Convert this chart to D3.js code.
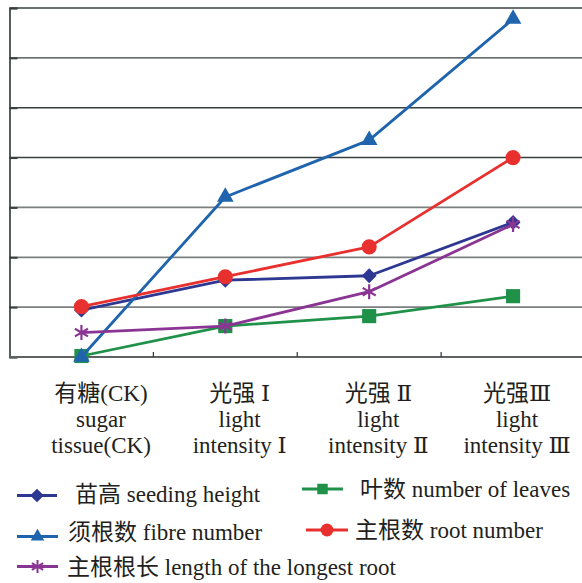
<!DOCTYPE html>
<html>
<head>
<meta charset="utf-8">
<script src="https://cdn.jsdelivr.net/npm/d3@7/dist/d3.min.js"></script>
<style>
  html, body { margin: 0; padding: 0; background: #fff; }
  svg { display: block; }
</style>
</head>
<body>
<svg id="chart" width="582" height="583"></svg>
<script>
// Treatments along the x axis (three text lines per label)
const categories = ["CK", "I", "II", "III"];
const labelLine1 = ["有糖(CK)", "光强 Ⅰ", "光强 Ⅱ", "光强Ⅲ"];
const labelLine2 = ["sugar", "light", "light", "light"];
const labelLine3 = ["tissue(CK)", "intensity Ⅰ", "intensity Ⅱ", "intensity Ⅲ"];

// Series values (relative units, one per treatment)
const seedingHeight = [0.94, 1.54, 1.63, 2.70];
const leafNumber    = [0.02, 0.62, 0.82, 1.22];
const fibreNumber   = [0.00, 3.21, 4.35, 6.78];
const rootNumber    = [1.01, 1.61, 2.21, 4.00];
const longestRoot   = [0.49, 0.62, 1.31, 2.66];

// Series names for the legend
const seriesNames = ["苗高 seeding height", "叶数 number of leaves", "须根数 fibre number",
                     "主根数 root number", "主根根长 length of the longest root"];

// Gridline values on the (unlabelled) y axis
const yGrid = [0, 1, 2, 3, 4, 5, 6, 7];

const FONT = "Liberation Serif, DejaVu Serif, Noto Sans CJK SC, serif";
const TEXT_COLOR = "#231f20";

const series = [
  { name: seriesNames[0], values: seedingHeight, color: "#2e3893", symbol: d3.symbolDiamond2 || d3.symbolDiamond, size: 140, lsize: 120, fill: true },
  { name: seriesNames[1], values: leafNumber,    color: "#1f9148", symbol: d3.symbolSquare,   size: 200, lsize: 110, fill: true },
  { name: seriesNames[2], values: fibreNumber,   color: "#1f64ad", symbol: d3.symbolTriangle, size: 120, lsize: 80,  fill: true },
  { name: seriesNames[3], values: rootNumber,    color: "#e8302e", symbol: d3.symbolCircle,   size: 180, lsize: 130, fill: true },
  { name: seriesNames[4], values: longestRoot,   color: "#8a3493", symbol: d3.symbolAsterisk, size: 160, lsize: 120, fill: false }
];

const svg = d3.select("#chart");

const plotTop = 8, plotBottom = 357, plotLeft = 9.5, plotRight = 585;

const x = d3.scaleBand().domain(categories).range([plotLeft, plotRight]).padding(0);
const xc = c => x(c) + x.bandwidth() / 2;
const y = d3.scaleLinear().domain([0, 7]).range([plotBottom, plotTop]);
// Label columns sit slightly left-compressed relative to the bands
const xLabel = d3.scalePoint().domain(categories).range([101, 517]);

// Horizontal gridlines
svg.append("g")
  .selectAll("line")
  .data(yGrid)
  .join("line")
  .attr("x1", plotLeft).attr("x2", 582)
  .attr("y1", d => y(d)).attr("y2", d => y(d))
  .attr("stroke", d => d >= 4 ? "#37403f" : "#7c7f7f")
  .attr("stroke-width", d => d >= 4 ? 1.4 : 1.8);

// Y axis with short inward ticks
const yAxis = d3.axisRight(y).tickValues(yGrid).tickSize(8).tickFormat("");
svg.append("g")
  .attr("transform", `translate(${plotLeft},0)`)
  .call(yAxis)
  .call(g => g.select(".domain").attr("stroke", "#2f3535").attr("stroke-width", 1.6))
  .call(g => g.selectAll(".tick line").attr("stroke", "#3a3f3f").attr("stroke-width", 2));

// X axis baseline with tick marks between the bands
svg.append("line")
  .attr("x1", plotLeft).attr("x2", 582)
  .attr("y1", y(0)).attr("y2", y(0))
  .attr("stroke", "#5e6262").attr("stroke-width", 1.8);
svg.append("g")
  .selectAll("line")
  .data(categories.slice(1))
  .join("line")
  .attr("x1", d => x(d)).attr("x2", d => x(d))
  .attr("y1", y(0)).attr("y2", y(0) - 5)
  .attr("stroke", "#2f3535").attr("stroke-width", 1.2);

// Category labels
const labels = svg.append("g").attr("text-anchor", "middle");
[labelLine1, labelLine2, labelLine3].forEach((lines, k) => {
  labels.append("g")
    .selectAll("text")
    .data(categories)
    .join("text")
    .attr("font-family", FONT).attr("font-size", 23).attr("fill", TEXT_COLOR)
    .attr("x", c => xLabel(c))
    .attr("y", 401 + k * 26)
    .text((c, i) => lines[i]);
});

// Series lines and markers
const line = d3.line().x((d, i) => xc(categories[i])).y(d => y(d));
series.forEach(s => {
  const g = svg.append("g");
  g.append("path")
    .attr("d", line(s.values))
    .attr("fill", "none")
    .attr("stroke", s.color)
    .attr("stroke-width", 2.8)
    .attr("stroke-linejoin", "round");
  g.selectAll("path.m")
    .data(s.values)
    .join("path")
    .attr("class", "m")
    .attr("transform", (d, i) => `translate(${xc(categories[i])},${y(d)})`)
    .attr("d", d3.symbol(s.symbol, s.size)())
    .attr("fill", s.fill ? s.color : "none")
    .attr("stroke", s.color)
    .attr("stroke-width", s.fill ? 0 : 2.2);
});

// Legend
const legendLayout = [
  { x1: 17,  x2: 57,  ly: 495.5, tx: 75,  ty: 502 },
  { x1: 302, x2: 343, ly: 489,   tx: 360, ty: 497 },
  { x1: 17,  x2: 58,  ly: 536.5, tx: 68,  ty: 540 },
  { x1: 306, x2: 348, ly: 530,   tx: 355, ty: 538 },
  { x1: 17,  x2: 58,  ly: 566.5, tx: 67,  ty: 575 }
];
const legend = svg.append("g");
series.forEach((s, i) => {
  const p = legendLayout[i];
  legend.append("line")
    .attr("x1", p.x1).attr("x2", p.x2)
    .attr("y1", p.ly).attr("y2", p.ly)
    .attr("stroke", s.color).attr("stroke-width", 3);
  legend.append("path")
    .attr("transform", `translate(${(p.x1 + p.x2) / 2},${p.ly})`)
    .attr("d", d3.symbol(s.symbol, s.lsize)())
    .attr("fill", s.fill ? s.color : "none")
    .attr("stroke", s.color)
    .attr("stroke-width", s.fill ? 0 : 2);
  legend.append("text")
    .attr("font-family", FONT).attr("font-size", 23).attr("fill", TEXT_COLOR)
    .attr("x", p.tx).attr("y", p.ty)
    .text(s.name);
});
</script>
</body>
</html>
